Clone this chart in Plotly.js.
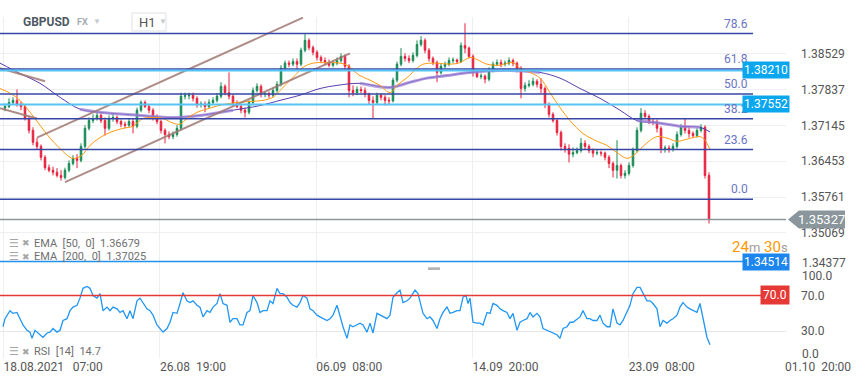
<!DOCTYPE html>
<html><head><meta charset="utf-8">
<script src="https://cdn.plot.ly/plotly-3.0.1.min.js"></script>
<style>html,body{margin:0;padding:0;background:#fff}#chart{width:859px;height:385px}</style>
</head><body><div id="chart"></div>
<script>
// ---- data (GBPUSD H1, each candle = 4 hourly bars) ----
const candleStart = 5, candleStep = 4;
const open = [
1.3748,1.3751,1.3759,1.3763,1.3755,1.3751,1.3728,1.3705,1.3682,1.3674,
1.3653,1.3633,1.3628,1.3624,1.3618,1.3614,1.3628,1.3641,1.3651,1.3647,
1.3674,1.3709,1.3724,1.3728,1.3734,1.3724,1.3709,1.3728,1.3730,1.3722,
1.3717,1.3715,1.3722,1.3713,1.3744,1.3759,1.3751,1.3744,1.3730,1.3722,
1.3705,1.3697,1.3693,1.3697,1.3709,1.3771,1.3772,1.3773,1.3767,1.3755,
1.3756,1.3751,1.3759,1.3763,1.3771,1.3790,1.3778,1.3771,1.3757,1.3751,
1.3744,1.3740,1.3759,1.3782,1.3790,1.3775,1.3776,1.3773,1.3782,1.3794,
1.3825,1.3835,1.3833,1.3838,1.3833,1.3860,1.3879,1.3865,1.3856,1.3846,
1.3840,1.3836,1.3831,1.3835,1.3840,1.3848,1.3829,1.3782,1.3778,1.3784,
1.3782,1.3775,1.3763,1.3759,1.3773,1.3769,1.3763,1.3762,1.3802,1.3833,
1.3848,1.3844,1.3840,1.3850,1.3871,1.3879,1.3860,1.3844,1.3836,1.3817,
1.3829,1.3833,1.3840,1.3841,1.3838,1.3869,1.3864,1.3848,1.3817,1.3809,
1.3810,1.3804,1.3821,1.3833,1.3836,1.3833,1.3835,1.3840,1.3835,1.3825,
1.3786,1.3792,1.3794,1.3800,1.3794,1.3786,1.3755,1.3736,1.3724,1.3701,
1.3674,1.3670,1.3659,1.3662,1.3666,1.3680,1.3674,1.3666,1.3661,1.3662,
1.3661,1.3653,1.3641,1.3628,1.3637,1.3618,1.3622,1.3637,1.3666,1.3705,
1.3738,1.3732,1.3722,1.3721,1.3709,1.3670,1.3671,1.3668,1.3674,1.3697,
1.3711,1.3705,1.3699,1.3695,1.3705,1.3711,1.3618];
const high = [
1.3757,1.3767,1.3769,1.3784,1.3761,1.3755,1.3732,1.3711,1.3690,1.3678,
1.3657,1.3639,1.3635,1.3632,1.3628,1.3633,1.3647,1.3657,1.3659,1.3680,
1.3715,1.3730,1.3736,1.3740,1.3738,1.3730,1.3734,1.3738,1.3734,1.3726,
1.3722,1.3728,1.3728,1.3749,1.3763,1.3763,1.3755,1.3748,1.3736,1.3726,
1.3709,1.3703,1.3703,1.3715,1.3778,1.3778,1.3778,1.3778,1.3771,1.3761,
1.3761,1.3765,1.3769,1.3777,1.3798,1.3794,1.3817,1.3775,1.3763,1.3755,
1.3749,1.3763,1.3788,1.3796,1.3794,1.3780,1.3780,1.3788,1.3800,1.3831,
1.3840,1.3840,1.3844,1.3844,1.3865,1.3891,1.3883,1.3869,1.3860,1.3850,
1.3846,1.3842,1.3840,1.3846,1.3854,1.3852,1.3833,1.3792,1.3790,1.3790,
1.3788,1.3778,1.3771,1.3778,1.3777,1.3773,1.3769,1.3807,1.3838,1.3864,
1.3854,1.3850,1.3856,1.3879,1.3887,1.3883,1.3864,1.3848,1.3840,1.3835,
1.3838,1.3846,1.3846,1.3844,1.3875,1.3912,1.3867,1.3852,1.3821,1.3815,
1.3813,1.3827,1.3838,1.3842,1.3842,1.3840,1.3846,1.3844,1.3838,1.3829,
1.3798,1.3802,1.3807,1.3804,1.3806,1.3790,1.3759,1.3740,1.3728,1.3705,
1.3680,1.3678,1.3672,1.3672,1.3690,1.3686,1.3678,1.3670,1.3668,1.3666,
1.3664,1.3657,1.3645,1.3686,1.3641,1.3628,1.3643,1.3672,1.3711,1.3748,
1.3744,1.3736,1.3728,1.3726,1.3713,1.3676,1.3676,1.3680,1.3703,1.3717,
1.3728,1.3711,1.3703,1.3709,1.3717,1.3715,1.3624];
const low = [
1.3742,1.3748,1.3755,1.3751,1.3744,1.3724,1.3699,1.3676,1.3668,1.3647,
1.3628,1.3624,1.3618,1.3614,1.3608,1.3610,1.3624,1.3637,1.3632,1.3643,
1.3670,1.3705,1.3719,1.3724,1.3719,1.3695,1.3705,1.3722,1.3717,1.3711,
1.3709,1.3711,1.3699,1.3709,1.3740,1.3748,1.3738,1.3724,1.3717,1.3699,
1.3680,1.3688,1.3688,1.3693,1.3705,1.3765,1.3765,1.3761,1.3749,1.3749,
1.3740,1.3748,1.3755,1.3759,1.3767,1.3773,1.3765,1.3751,1.3748,1.3738,
1.3730,1.3736,1.3755,1.3778,1.3769,1.3769,1.3767,1.3769,1.3778,1.3790,
1.3821,1.3827,1.3829,1.3821,1.3829,1.3856,1.3860,1.3850,1.3840,1.3835,
1.3831,1.3827,1.3827,1.3831,1.3836,1.3821,1.3769,1.3771,1.3773,1.3777,
1.3769,1.3755,1.3728,1.3755,1.3763,1.3753,1.3755,1.3759,1.3798,1.3829,
1.3838,1.3835,1.3836,1.3846,1.3867,1.3854,1.3838,1.3831,1.3798,1.3813,
1.3825,1.3829,1.3835,1.3833,1.3835,1.3854,1.3844,1.3809,1.3806,1.3804,
1.3796,1.3800,1.3817,1.3829,1.3827,1.3829,1.3831,1.3829,1.3817,1.3767,
1.3780,1.3788,1.3790,1.3788,1.3777,1.3748,1.3730,1.3720,1.3695,1.3666,
1.3662,1.3643,1.3653,1.3659,1.3662,1.3668,1.3661,1.3653,1.3657,1.3655,
1.3647,1.3632,1.3614,1.3612,1.3612,1.3612,1.3618,1.3633,1.3662,1.3701,
1.3728,1.3717,1.3715,1.3701,1.3661,1.3662,1.3662,1.3664,1.3670,1.3693,
1.3699,1.3691,1.3690,1.3691,1.3701,1.3612,1.3525];
const close = [
1.3751,1.3759,1.3763,1.3755,1.3751,1.3728,1.3705,1.3682,1.3674,1.3653,
1.3633,1.3628,1.3624,1.3618,1.3614,1.3628,1.3641,1.3651,1.3647,1.3674,
1.3709,1.3724,1.3728,1.3734,1.3724,1.3709,1.3728,1.3730,1.3722,1.3717,
1.3715,1.3722,1.3713,1.3744,1.3759,1.3751,1.3744,1.3730,1.3722,1.3705,
1.3697,1.3693,1.3697,1.3709,1.3771,1.3772,1.3773,1.3767,1.3755,1.3756,
1.3751,1.3759,1.3763,1.3771,1.3790,1.3778,1.3771,1.3757,1.3751,1.3744,
1.3740,1.3759,1.3782,1.3790,1.3775,1.3776,1.3773,1.3782,1.3794,1.3825,
1.3835,1.3833,1.3838,1.3833,1.3860,1.3879,1.3865,1.3856,1.3846,1.3840,
1.3836,1.3831,1.3835,1.3840,1.3848,1.3829,1.3782,1.3778,1.3784,1.3782,
1.3775,1.3763,1.3759,1.3773,1.3769,1.3763,1.3762,1.3802,1.3833,1.3848,
1.3844,1.3840,1.3850,1.3871,1.3879,1.3860,1.3844,1.3836,1.3817,1.3829,
1.3833,1.3840,1.3841,1.3838,1.3869,1.3864,1.3848,1.3817,1.3809,1.3810,
1.3804,1.3821,1.3833,1.3836,1.3833,1.3835,1.3840,1.3835,1.3825,1.3786,
1.3792,1.3794,1.3800,1.3794,1.3786,1.3755,1.3736,1.3724,1.3701,1.3674,
1.3670,1.3659,1.3662,1.3666,1.3680,1.3674,1.3666,1.3661,1.3662,1.3661,
1.3653,1.3641,1.3628,1.3637,1.3618,1.3622,1.3637,1.3666,1.3705,1.3738,
1.3732,1.3722,1.3721,1.3709,1.3670,1.3671,1.3668,1.3674,1.3697,1.3711,
1.3705,1.3699,1.3695,1.3705,1.3711,1.3618,1.35327];

const ema50X = [0,10,20,30,40,50,60,70,75,82,90,100,110,123,133,143,153,163,173,180,187,197,210,223,237,250,263,273,278,287,295,303,313,327,340,347,353,360,370,380,390,397,407,417,423,437,450,460,470,477,487,500,513,520,530,540,550,560,570,583,597,607,617,627,635,643,657,667,677,687,700,705,710];
const ema50 = [1.3786,1.3777,1.3763,1.3740,1.3715,1.3690,1.3670,1.3653,1.3651,1.3657,1.3676,1.3691,1.3701,1.3709,1.3713,1.3728,1.3730,1.3728,1.3719,1.3717,1.3728,1.3740,1.3748,1.3755,1.3759,1.3761,1.3763,1.3769,1.3778,1.3796,1.3811,1.3827,1.3835,1.3836,1.3835,1.3831,1.3821,1.3811,1.3802,1.3792,1.3778,1.3792,1.3807,1.3825,1.3833,1.3835,1.3833,1.3836,1.3846,1.3842,1.3833,1.3831,1.3836,1.3825,1.3817,1.3806,1.3778,1.3749,1.3724,1.3699,1.3684,1.3676,1.3662,1.3651,1.3659,1.3674,1.3693,1.3690,1.3684,1.3688,1.3693,1.3686,1.3668];
const ema200X = [0,20,40,60,80,100,140,173,200,233,260,280,300,320,337,360,390,410,427,447,470,510,540,560,580,600,620,637,660,680,700,710];
const ema200 = [1.3835,1.3815,1.3796,1.3769,1.3746,1.3740,1.3734,1.3730,1.3734,1.3744,1.3753,1.3763,1.3773,1.3786,1.3792,1.3796,1.3788,1.3798,1.3806,1.3811,1.3817,1.3821,1.3817,1.3806,1.3786,1.3767,1.3744,1.3724,1.3719,1.3713,1.3711,1.3702];

const rsiX = [3,5,10,13,17,20,23,27,30,32,35,40,43,47,50,53,57,60,63,67,70,73,77,80,83,87,90,93,97,100,
103,107,110,113,117,120,123,127,130,133,137,140,143,147,150,153,157,160,163,167,170,173,177,180,183,187,190,193,197,200,
203,207,210,213,217,220,223,227,230,233,237,240,243,247,250,253,257,260,263,267,270,273,277,280,283,287,290,293,297,300,
303,307,310,313,317,320,323,327,330,333,337,340,343,347,350,353,357,360,363,367,370,373,377,380,383,387,390,393,397,400,
403,407,410,413,415,418,420,423,427,430,433,437,440,443,447,450,453,457,460,463,466,468,470,473,477,480,483,487,490,493,
497,500,503,507,510,513,517,520,523,527,530,533,537,540,543,547,550,553,557,560,563,567,570,573,577,580,583,587,590,593,
597,600,603,607,610,613,617,620,623,627,630,633,637,640,643,647,650,653,657,660,663,667,670,673,677,680,683,687,690,693,
697,700,703,707,710];
const rsi = [35,44,53,50,51,44,37,31,29,22,31,26,23,28,29,33,29,31,42,44,53,57,59,67,78,80,78,70,67,72,
53,57,53,57,55,51,53,44,53,44,64,67,62,55,53,48,37,33,29,33,40,51,50,61,73,64,62,64,59,57,
46,53,51,57,61,72,61,59,40,44,44,37,37,51,53,70,62,51,53,53,64,61,78,72,72,68,62,59,57,62,
70,67,55,53,48,46,44,42,44,48,59,46,35,22,37,35,37,39,37,29,39,28,50,48,46,44,48,68,73,76,
62,64,67,72,76,72,64,50,44,46,42,33,44,51,57,50,51,53,53,68,70,61,67,40,39,39,37,51,50,61,
59,55,53,51,44,50,31,40,42,44,51,46,50,46,33,31,29,28,26,22,33,35,40,40,44,46,53,44,44,42,
42,48,39,35,35,55,39,37,42,51,59,72,79,79,72,64,64,61,55,35,42,39,42,44,48,57,62,57,55,53,
51,61,44,23,14.7];

const fibLevels = ['0.0','23.6','38.2','50.0','61.8','78.6'];
const fibPrices = [1.35717,1.36679,1.37275,1.37755,1.38236,1.38921];
const levelPrices = [1.38210,1.37552];
const supportPrice = 1.34514;
const lastPrice = 1.35327;
const ema50Last = 1.36679, ema200Last = 1.37025, rsiLast = 14.7;
const channelUpperX = [37,303], channelUpperY = [1.3691,1.3923];
const channelLowerX = [65,350], channelLowerY = [1.3605,1.3854];
const wedgeAX = [0,45], wedgeAY = [1.3825,1.3800];
const wedgeBX = [0,37], wedgeBY = [1.3748,1.3728];
const priceTicks = [1.38529,1.37837,1.37145,1.36453,1.35761,1.35069,1.34377];
const timeTickPos = [3.6,159.9,316.2,472.5,628.8,785.1];
const timeTickText = ['18.08.2021\u00a0\u00a0 07:00','26.08\u00a0 19:00','06.09\u00a0 08:00','14.09\u00a0 20:00','23.09\u00a0 08:00','01.10\u00a0 20:00'];
const rsiTicks = [0,30,70,100];
const rsiTickText = ['','30.0','70.0',''];
const rsiOverbought = 70;

// ---- styles ----
const FONT = 'Roboto, "Open Sans", sans-serif';
const GRID = '#efefef';
const FIB = '#3546a6';
const band200 = [[77,250],[345,548],[628,700]];
const candleX = close.map((_, i) => candleStart + i * candleStep);
const inBand = x => band200.some(r => x >= r[0] && x <= r[1]);

const traces = [
  {type:'candlestick', x:candleX, open:open, high:high, low:low, close:close, xaxis:'x', yaxis:'y',
   increasing:{line:{color:'#178a55', width:1}, fillcolor:'#178a55'},
   decreasing:{line:{color:'#e6203d', width:1}, fillcolor:'#e6203d'},
   whiskerwidth:0, hoverinfo:'skip', showlegend:false},
  {type:'scatter', mode:'lines', x:ema200X, y:ema200, line:{color:'#5a3db0', width:1, shape:'spline'}, showlegend:false, hoverinfo:'skip'},
  {type:'scatter', mode:'lines', x:ema200X, y:ema200.map((v,i)=> inBand(ema200X[i]) ? v : null),
   line:{color:'rgba(155,130,212,0.75)', width:3, shape:'spline'}, connectgaps:false, showlegend:false, hoverinfo:'skip'},
  {type:'scatter', mode:'lines', x:ema50X, y:ema50, line:{color:'#ff9a10', width:1, shape:'spline'}, showlegend:false, hoverinfo:'skip'},
  {type:'scatter', mode:'lines', x:channelUpperX, y:channelUpperY, line:{color:'rgba(160,120,115,0.85)', width:2}, showlegend:false, hoverinfo:'skip'},
  {type:'scatter', mode:'lines', x:channelLowerX, y:channelLowerY, line:{color:'rgba(160,120,115,0.85)', width:2}, showlegend:false, hoverinfo:'skip'},
  {type:'scatter', mode:'lines', x:wedgeAX, y:wedgeAY, line:{color:'rgba(160,120,115,0.85)', width:2}, showlegend:false, hoverinfo:'skip'},
  {type:'scatter', mode:'lines', x:wedgeBX, y:wedgeBY, line:{color:'rgba(160,120,115,0.85)', width:2}, showlegend:false, hoverinfo:'skip'},
  {type:'scatter', mode:'lines', x:rsiX, y:rsi, xaxis:'x', yaxis:'y2', line:{color:'#2196f3', width:1.3}, showlegend:false, hoverinfo:'skip'}
];

const shapes = [];
fibPrices.forEach(p => shapes.push({type:'line', xref:'x', yref:'y', x0:0, x1:753, y0:p, y1:p, line:{color:FIB, width:1.5}, layer:'above'}));
levelPrices.forEach(p => shapes.push({type:'line', xref:'paper', yref:'y', x0:0, x1:1, y0:p, y1:p, line:{color:'#55c4f5', width:2}, layer:'above'}));
shapes.push({type:'line', xref:'paper', yref:'y', x0:0, x1:1, y0:supportPrice, y1:supportPrice, line:{color:'#2391ee', width:1.5}, layer:'above'});
shapes.push({type:'line', xref:'paper', yref:'y', x0:0, x1:1, y0:lastPrice, y1:lastPrice, line:{color:'#8d989d', width:1.5}, layer:'above'});
shapes.push({type:'line', xref:'paper', yref:'y2', x0:0, x1:1, y0:rsiOverbought, y1:rsiOverbought, line:{color:'#e53935', width:1.5}, layer:'above'});
// current-price arrow tag
const dy = 9/5173;
shapes.push({type:'path', xref:'paper', yref:'y', layer:'above', fillcolor:'#8a969b', line:{width:0},
  path:`M1.0025,${lastPrice} L1.0165,${lastPrice+dy} L1.0751,${lastPrice+dy} L1.0751,${lastPrice-dy} L1.0165,${lastPrice-dy} Z`});
// H1 selector box and pane handle
shapes.push({type:'rect', xref:'paper', yref:'paper', x0:0.1679, x1:0.2112, y0:0.9589, y1:1.0117, line:{color:'#dde1e4', width:1}, fillcolor:'rgba(255,255,255,0.9)', layer:'above'});
shapes.push({type:'rect', xref:'paper', yref:'paper', x0:428/786, x1:440/786, y0:0.258, y1:0.266, line:{width:0}, fillcolor:'#b5b5b5', layer:'above'});

const ann = [];
fibPrices.forEach((p,i) => ann.push({xref:'x', yref:'y', x:750, y:p, xanchor:'right', yanchor:'bottom', yshift:1, showarrow:false,
  text:fibLevels[i], font:{family:FONT, size:12, color:'#6a74c4'}}));
levelPrices.forEach(p => ann.push({xref:'paper', yref:'y', x:1.0051, y:p, xanchor:'right', yanchor:'middle', showarrow:false,
  text:p.toFixed(5), bgcolor:'#0aa6ee', borderpad:1, font:{family:FONT, size:12, color:'#fff'}}));
ann.push({xref:'paper', yref:'y', x:1.0051, y:supportPrice, xanchor:'right', yanchor:'middle', showarrow:false,
  text:supportPrice.toFixed(5), bgcolor:'#1c86ee', borderpad:1, font:{family:FONT, size:12, color:'#fff'}});
ann.push({xref:'paper', yref:'y', x:1.0458, y:lastPrice, xanchor:'center', yanchor:'middle', showarrow:false,
  text:lastPrice.toFixed(5), font:{family:FONT, size:13, color:'#fff'}});
ann.push({xref:'paper', yref:'y2', x:1.0051, y:rsiOverbought, xanchor:'right', yanchor:'middle', showarrow:false,
  text:rsiOverbought.toFixed(1), bgcolor:'#e53935', borderpad:2, font:{family:FONT, size:12, color:'#fff'}});
ann.push({xref:'paper', yref:'paper', x:1.0051, y:0.3255, xanchor:'right', yanchor:'middle', showarrow:false,
  text:'<span style="color:#ff9800">24</span><span style="color:#9e9e9e;font-size:13px">m</span> <span style="color:#ff9800">30</span><span style="color:#9e9e9e;font-size:13px">s</span>',
  font:{family:FONT, size:15, color:'#ff9800'}});
// edge tick labels
ann.push({xref:'paper', yref:'y', x:1.0178, y:1.3448, xanchor:'left', yanchor:'middle', showarrow:false, text:'1.34377', font:{family:FONT, size:12, color:'#555'}});
ann.push({xref:'paper', yref:'y2', x:1.0178, y:92, xanchor:'left', yanchor:'middle', showarrow:false, text:'100.0', font:{family:FONT, size:12, color:'#555'}});
ann.push({xref:'paper', yref:'y2', x:1.0178, y:4.5, xanchor:'left', yanchor:'middle', showarrow:false, text:'0.0', font:{family:FONT, size:12, color:'#555'}});
// header
ann.push({xref:'paper', yref:'paper', x:0.0267, y:0.9853, xanchor:'left', yanchor:'middle', showarrow:false, text:'<b>GBPUSD</b>', font:{family:FONT, size:12, color:'#4f5962'}});
ann.push({xref:'paper', yref:'paper', x:0.0954, y:0.9853, xanchor:'left', yanchor:'middle', showarrow:false, text:'<b>FX</b>', font:{family:FONT, size:9, color:'#a3abb0'}});
ann.push({xref:'paper', yref:'paper', x:0.1158, y:0.9870, xanchor:'left', yanchor:'middle', showarrow:false, text:'▼', font:{family:FONT, size:8, color:'#c5c9cc'}});
ann.push({xref:'paper', yref:'paper', x:0.1743, y:0.9853, xanchor:'left', yanchor:'middle', showarrow:false, text:'H1', font:{family:FONT, size:13, color:'#555'}});
ann.push({xref:'paper', yref:'paper', x:0.1997, y:0.9870, xanchor:'left', yanchor:'middle', showarrow:false, text:'▼', font:{family:FONT, size:8, color:'#c5c9cc'}});
// indicator legends
const legendRows = [
  {y:0.3372, text:'EMA\u00a0 [50,\u00a0 0]\u00a0 ' + ema50Last.toFixed(5)},
  {y:0.2962, text:'EMA\u00a0 [200,\u00a0 0]\u00a0 ' + ema200Last.toFixed(5)},
  {y:0.0176, text:'RSI\u00a0 [14]\u00a0 ' + rsiLast.toFixed(1)}
];
legendRows.forEach(r => {
  ann.push({xref:'paper', yref:'paper', x:0.0089, y:r.y, xanchor:'left', yanchor:'middle', showarrow:false, text:'☰', font:{family:'DejaVu Sans', size:11, color:'#a5a5a5'}});
  ann.push({xref:'paper', yref:'paper', x:0.0254, y:r.y, xanchor:'left', yanchor:'middle', showarrow:false, text:'✖', font:{family:'DejaVu Sans', size:9, color:'#a5a5a5'}});
  ann.push({xref:'paper', yref:'paper', x:0.0407, y:r.y, xanchor:'left', yanchor:'middle', showarrow:false, text:r.text, font:{family:FONT, size:11, color:'#6f6f6f'}});
});

const layout = {
  width:859, height:385, margin:{l:0, r:73, t:17, b:27, pad:0},
  paper_bgcolor:'#fff', plot_bgcolor:'#fff', showlegend:false, boxgap:0.45,
  font:{family:FONT, size:12, color:'#555'},
  xaxis:{range:[0,786], tickmode:'array', tickvals:timeTickPos, ticktext:timeTickText, ticks:'',
    ticklabelposition:'outside right', showgrid:true, gridcolor:GRID, gridwidth:1, zeroline:false,
    showline:false, anchor:'y2', rangeslider:{visible:false}, tickfont:{family:FONT, size:12, color:'#555'}, fixedrange:true},
  yaxis:{domain:[0.262,1], range:[1.34377,1.39242], side:'right', tickmode:'array', tickvals:priceTicks,
    ticktext:priceTicks.map(v => v === 1.34377 ? '' : v.toFixed(5)), ticks:'', ticklabelstandoff:14,
    showgrid:true, gridcolor:GRID, zeroline:false, anchor:'x', tickfont:{family:FONT, size:12, color:'#555'}},
  yaxis2:{domain:[0,0.262], range:[0,100], side:'right', tickmode:'array', tickvals:rsiTicks, ticktext:rsiTickText,
    ticks:'', ticklabelstandoff:14, showgrid:true, gridcolor:'#e6e6e6', zeroline:false, anchor:'x',
    tickfont:{family:FONT, size:12, color:'#555'}},
  shapes:shapes, annotations:ann
};

Plotly.newPlot('chart', traces, layout, {displayModeBar:false, staticPlot:true});
</script>
</body></html>
